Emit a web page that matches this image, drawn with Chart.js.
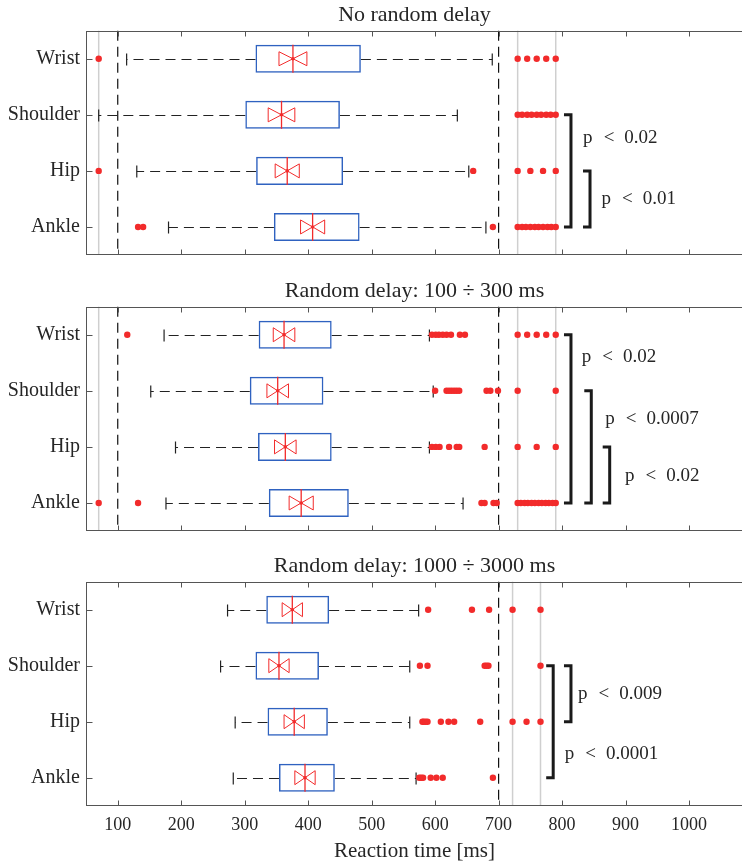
<!DOCTYPE html>
<html>
<head>
<meta charset="utf-8">
<script src="https://cdn.jsdelivr.net/npm/chart.js@4.4.1/dist/chart.umd.min.js"></script>
<style>
html, body { margin: 0; padding: 0; background: #fff; overflow: hidden; width: 742px; height: 864px; }
.panel { position: absolute; left: 0; }
</style>
</head>
<body>
<div class="panel" style="top:0px"><canvas id="panel0" width="750" height="259"></canvas></div>
<div class="panel" style="top:276px"><canvas id="panel1" width="750" height="259"></canvas></div>
<div class="panel" style="top:551px"><canvas id="panel2" width="750" height="313"></canvas></div>
<script>
// categories and panels
var categories = ["Wrist", "Shoulder", "Hip", "Ankle"];
var panelTitles = ["No random delay", "Random delay: 100 \u00f7 300 ms", "Random delay: 1000 \u00f7 3000 ms"];
var xTicks = [100, 200, 300, 400, 500, 600, 700, 800, 900, 1000];

// box statistics, one row per panel, order Wrist/Shoulder/Hip/Ankle
var q1 = [[317, 301, 318, 346], [322, 308, 321, 338], [334, 317, 336, 354]];
var q3 = [[483, 450, 455, 481], [437, 424, 437, 464], [433, 417, 431, 442]];
var medians = [[376, 358, 367, 407], [362, 352, 364, 389], [375, 354, 378, 395]];
var notchHalf = [[22, 21, 19, 19], [17, 17, 17, 19], [16, 16, 16, 16]];
var whiskerLow = [[114, 70, 130, 180], [173, 152, 191, 176], [273, 262, 285, 282]];
var whiskerHigh = [[690, 635, 653, 680], [591, 597, 591, 644], [574, 560, 560, 570]];

var outliers = [
    [
        [70, 730, 745, 760, 775, 790],
        [730, 737, 745, 752, 760, 767, 775, 782, 790],
        [70, 660, 730, 750, 770, 790],
        [132, 140, 691, 730, 737, 743, 750, 757, 763, 770, 777, 783, 790]
    ],
    [
        [115, 595, 601, 606, 612, 618, 625, 639, 647, 730, 745, 760, 775, 790],
        [600, 618, 622, 626, 630, 634, 638, 681, 687, 699, 730, 790],
        [595, 601, 607, 622, 634, 638, 678, 730, 760, 790],
        [70, 132, 673, 678, 692, 697, 730, 735, 741, 746, 752, 757, 763, 768, 774, 779, 785, 790]
    ],
    [
        [589, 658, 685, 722, 766],
        [576, 588, 678, 681, 684, 766],
        [580, 582, 585, 588, 609, 621, 630, 671, 722, 744, 766],
        [575, 578, 581, 593, 602, 612, 691]
    ]
];

// reference lines (ms)
var dashedLines = [[100, 700], [100, 700], [700]];
var limitLines = [[70, 730, 790], [70, 730, 790], [722, 766]];

// significance brackets: category index from/to, x in ms, label
var bracketFrom = [[1, 2], [0, 1, 2], [1, 1]];
var bracketTo = [[3, 3], [3, 3, 3], [3, 2]];
var bracketX = [[814, 844], [814, 846, 875], [786, 814]];
var pValues = [["0.02", "0.01"], ["0.02", "0.0007", "0.02"], ["0.009", "0.0001"]];
var pLabelX = [[833, 862], [831, 868, 899], [825, 804]];
var pLabelY = [[1.41, 2.5], [0.39, 1.5, 2.52], [1.5, 2.57]];

var serif = "'Liberation Serif', 'Times New Roman', serif";
var textColor = "#262626";
var boxBlue = "#2f62c0";
var red = "#f22b2b";

Chart.defaults.font.family = serif;
Chart.defaults.color = textColor;

function line(ctx, x1, y1, x2, y2) {
    ctx.beginPath();
    ctx.moveTo(x1, y1);
    ctx.lineTo(x2, y2);
    ctx.stroke();
}

var extrasPlugin = {
    id: "extras",
    beforeDatasetsDraw: function(chart, args, opts) {
        var p = opts.panel;
        var ctx = chart.ctx, xs = chart.scales.x, ys = chart.scales.y, a = chart.chartArea;
        ctx.save();
        // light grey limit lines
        ctx.strokeStyle = "#cfcfcf";
        ctx.lineWidth = 1.5;
        limitLines[p].forEach(function(v) {
            var x = xs.getPixelForValue(v);
            line(ctx, x, a.top, x, a.bottom);
        });
        // dashed reference lines
        ctx.strokeStyle = "#111";
        ctx.lineWidth = 1.2;
        ctx.setLineDash([10, 6]);
        dashedLines[p].forEach(function(v) {
            var x = xs.getPixelForValue(v);
            line(ctx, x, a.top, x, a.bottom);
        });
        // whiskers
        ctx.strokeStyle = "#222";
        ctx.lineWidth = 1.2;
        for (var i = 0; i < categories.length; i++) {
            var y = Math.round(ys.getPixelForValue(i)) + 0.5;
            var xl = xs.getPixelForValue(whiskerLow[p][i]);
            var xh = xs.getPixelForValue(whiskerHigh[p][i]);
            ctx.setLineDash([10, 6]);
            line(ctx, xs.getPixelForValue(q1[p][i]), y, xl, y);
            line(ctx, xs.getPixelForValue(q3[p][i]), y, xh, y);
            ctx.setLineDash([]);
            line(ctx, xl, y - 6, xl, y + 6);
            line(ctx, xh, y - 6, xh, y + 6);
        }
        ctx.restore();
    },
    afterDatasetsDraw: function(chart, args, opts) {
        var p = opts.panel;
        var ctx = chart.ctx, xs = chart.scales.x, ys = chart.scales.y, a = chart.chartArea;
        ctx.save();
        // notches and medians
        ctx.strokeStyle = red;
        ctx.fillStyle = red;
        for (var i = 0; i < categories.length; i++) {
            var y = ys.getPixelForValue(i);
            var m = xs.getPixelForValue(medians[p][i]);
            var nl = xs.getPixelForValue(medians[p][i] - notchHalf[p][i]);
            var nr = xs.getPixelForValue(medians[p][i] + notchHalf[p][i]);
            ctx.lineWidth = 1.3;
            line(ctx, m, y - 14, m, y + 14);
            ctx.lineWidth = 1;
            ctx.beginPath();
            ctx.moveTo(m, y);
            ctx.lineTo(nl, y - 7);
            ctx.lineTo(nl, y + 7);
            ctx.closePath();
            ctx.moveTo(m, y);
            ctx.lineTo(nr, y - 7);
            ctx.lineTo(nr, y + 7);
            ctx.closePath();
            ctx.stroke();
            ctx.beginPath();
            ctx.arc(m, y, 1.8, 0, Math.PI * 2);
            ctx.fill();
        }
        // significance brackets
        ctx.strokeStyle = "#1a1a1a";
        ctx.lineWidth = 3;
        ctx.lineJoin = "miter";
        for (var b = 0; b < bracketX[p].length; b++) {
            var bx = xs.getPixelForValue(bracketX[p][b]);
            var y1 = ys.getPixelForValue(bracketFrom[p][b]);
            var y2 = ys.getPixelForValue(bracketTo[p][b]);
            ctx.beginPath();
            ctx.moveTo(bx - 7, y1);
            ctx.lineTo(bx, y1);
            ctx.lineTo(bx, y2);
            ctx.lineTo(bx - 7, y2);
            ctx.stroke();
            var lx = xs.getPixelForValue(pLabelX[p][b]);
            var ly = ys.getPixelForValue(pLabelY[p][b]);
            ctx.fillStyle = textColor;
            ctx.font = "19px " + serif;
            ctx.textAlign = "left";
            ctx.textBaseline = "middle";
            ctx.fillText("p", lx, ly);
            ctx.fillText("<", lx + 20.6, ly);
            ctx.fillText(pValues[p][b], lx + 41.3, ly);
        }
        // frame and inward ticks
        ctx.strokeStyle = "#555";
        ctx.lineWidth = 1;
        var top = Math.round(a.top) + 0.5, bottom = Math.round(a.bottom) - 0.5;
        var left = Math.round(a.left) + 0.5, right = Math.round(a.right) - 0.5;
        ctx.strokeRect(left, top, right - left, bottom - top);
        xTicks.forEach(function(v) {
            var x = Math.round(xs.getPixelForValue(v)) + 0.5;
            line(ctx, x, top, x, top + 5);
            line(ctx, x, bottom, x, bottom - 5);
        });
        for (var k = 0; k < categories.length; k++) {
            var ty = Math.round(ys.getPixelForValue(k)) + 0.5;
            line(ctx, left, ty, left + 6, ty);
        }
        // panel title
        ctx.fillStyle = textColor;
        ctx.font = "22px " + serif;
        ctx.textAlign = "center";
        ctx.textBaseline = "middle";
        ctx.fillText(panelTitles[p], (a.left + a.right) / 2, a.top - 15.5);
        ctx.restore();
    }
};

function makePanel(p, canvasId, showX) {
    var outlierPoints = [];
    for (var i = 0; i < categories.length; i++) {
        for (var j = 0; j < outliers[p][i].length; j++) {
            outlierPoints.push({ x: outliers[p][i][j], y: categories[i] });
        }
    }
    var boxes = [];
    for (var i = 0; i < categories.length; i++) {
        boxes.push([q1[p][i], q3[p][i]]);
    }
    return new Chart(document.getElementById(canvasId), {
        type: "bar",
        data: {
            labels: categories,
            datasets: [
                {
                    type: "bar",
                    data: boxes,
                    backgroundColor: "rgba(0,0,0,0)",
                    borderColor: boxBlue,
                    borderWidth: 1.5,
                    borderSkipped: false,
                    barPercentage: 0.5,
                    categoryPercentage: 1.0
                },
                {
                    type: "scatter",
                    data: outlierPoints,
                    xAxisID: "x",
                    yAxisID: "y",
                    pointRadius: 3.2,
                    pointBorderWidth: 0,
                    pointBackgroundColor: red,
                    backgroundColor: red
                }
            ]
        },
        options: {
            indexAxis: "y",
            responsive: false,
            devicePixelRatio: 1,
            animation: false,
            layout: { padding: { top: 30.7, right: 7, left: 0, bottom: 0 } },
            plugins: {
                legend: { display: false },
                tooltip: { enabled: false },
                title: { display: false },
                extras: { panel: p }
            },
            scales: {
                x: {
                    type: "linear",
                    min: 50,
                    max: 1085,
                    grid: { display: false, drawTicks: false },
                    border: { display: false },
                    afterBuildTicks: function(s) {
                        s.ticks = xTicks.map(function(v) { return { value: v }; });
                    },
                    afterFit: function(s) {
                        s.height = showX ? 58.3 : 4;
                        s.paddingLeft = 0;
                        s.paddingRight = 0;
                    },
                    ticks: {
                        display: showX,
                        font: { size: 18 },
                        color: textColor,
                        padding: 9,
                        maxRotation: 0,
                        autoSkip: false,
                        callback: function(v) { return String(v); }
                    },
                    title: {
                        display: showX,
                        text: "Reaction time [ms]",
                        font: { size: 21 },
                        color: textColor,
                        padding: { top: 0, bottom: 0 }
                    }
                },
                y: {
                    type: "category",
                    offset: true,
                    grid: { display: false, drawTicks: false },
                    border: { display: false },
                    afterFit: function(s) {
                        s.width = 86;
                        s.paddingTop = 0;
                        s.paddingBottom = 0;
                    },
                    ticks: {
                        font: { size: 20 },
                        color: textColor,
                        padding: 6,
                        autoSkip: false
                    }
                }
            }
        },
        plugins: [extrasPlugin]
    });
}

makePanel(0, "panel0", false);
makePanel(1, "panel1", false);
makePanel(2, "panel2", true);
</script>
</body>
</html>
